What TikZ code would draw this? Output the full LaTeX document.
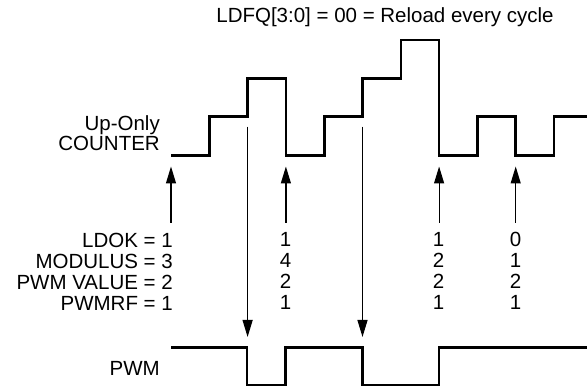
\documentclass[tikz,border=0pt]{standalone}
\usepackage{fontspec}
\setmainfont{Liberation Sans}
\usetikzlibrary{arrows.meta,positioning}
\tikzset{
  wave/.style={line width=2.6pt,line join=miter},
  trig/.style={line width=1.2pt,-{Triangle[length=17pt,width=10pt]}},
  lbl/.style={font=\fontsize{20.5}{21}\selectfont,inner sep=0pt},
}

\begin{document}
\begin{tikzpicture}[x=1pt,y=-1pt]
  \useasboundingbox (0,0) rectangle (587,390);
  \node[lbl] (title) at (385,17) {LDFQ[3:0] = 00 = Reload every cycle};
  % up-only counter
  \node[lbl,align=right,anchor=east,font=\fontsize{20.5}{20}\selectfont] (cnt) at (160,133) {Up-Only\\COUNTER};
  \draw[wave] (171,155.5) -| (209.3,116.7) -| (247.6,78.3) -| (285.9,155.5)
    -| (324.2,116.7) -| (362.5,78.3) -| (400.8,40) -| (439.1,155.5)
    -| (477.4,116.7) -| (515.7,155.5) -| (554,116.7) -- (588,116.7);
  % pwm output
  \node[lbl,anchor=east] (pwm) at (160,368) {PWM};
  \draw[wave] (171,347.7) -| (247,385) -| (285.5,347.7) -| (362.3,385)
    -| (439,347.7) -- (588,347.7);
  % register values
  \node[lbl,anchor=east] (ldok) at (173,240) {LDOK = 1};
  \node[lbl,anchor=east] (modulus) at (173,261) {MODULUS = 3};
  \node[lbl,anchor=east] (pwmval) at (173,282) {PWM VALUE = 2};
  \node[lbl,anchor=east] (pwmrf) at (173,303) {PWMRF = 1};
  \node[lbl,align=center,anchor=north] (colA) at (285.5,232) {1\\4\\2\\1};
  \node[lbl,align=center,anchor=north] (colB) at (438.5,232) {1\\2\\2\\1};
  \node[lbl,align=center,anchor=north] (colC) at (515.5,232) {0\\1\\2\\1};
  % reload arrows
  \coordinate (r0) at (171,222.7);
  \coordinate (r0tip) at (171,166.5);
  \coordinate (rA) at (285.9,222.7);
  \coordinate (rAtip) at (285.9,166.5);
  \coordinate (rB) at (439.1,222.7);
  \coordinate (rBtip) at (439.1,166.5);
  \coordinate (rC) at (515.7,222.7);
  \coordinate (rCtip) at (515.7,166.5);
  \draw[trig] (r0) -- (r0tip);
  \draw[trig] (rA) -- (rAtip);
  \draw[trig] (rB) -- (rBtip);
  \draw[trig] (rC) -- (rCtip);
  % compare arrows
  \coordinate (c1) at (247.6,126.7);
  \coordinate (c1tip) at (247.6,337);
  \coordinate (c2) at (362.5,126.7);
  \coordinate (c2tip) at (362.5,337);
  \draw[trig] (c1) -- (c1tip);
  \draw[trig] (c2) -- (c2tip);
\end{tikzpicture}
\end{document}
